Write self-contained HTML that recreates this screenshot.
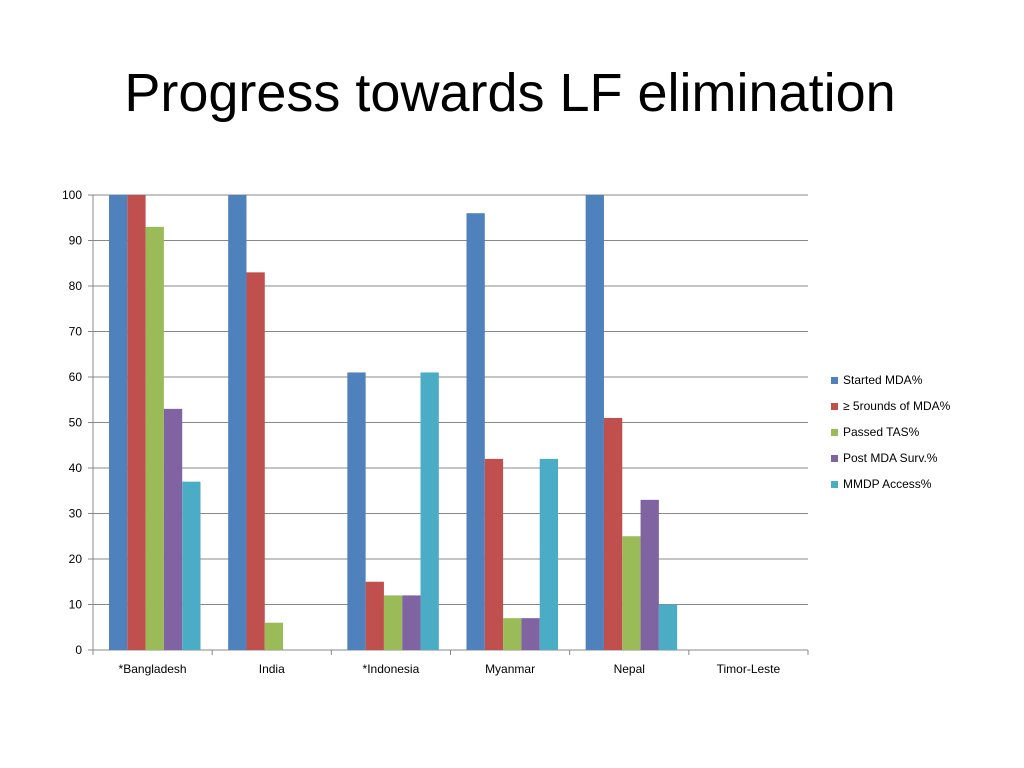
<!DOCTYPE html>
<html><head><meta charset="utf-8"><style>
body{margin:0;background:#fff;width:1024px;height:768px;overflow:hidden;font-family:"Liberation Sans",Calibri,sans-serif}
h1{position:absolute;left:0;width:1024px;top:62px;margin:0;text-align:center;font-weight:normal;font-size:54px;color:#000}
</style></head><body>
<h1 style="left:-2px">Progress towards LF elimination</h1>
<svg id="c" width="1024" height="768" style="position:absolute;left:0;top:0"></svg>
<script>
const categories=["*Bangladesh","India","*Indonesia","Myanmar","Nepal","Timor-Leste"];
const seriesNames=["Started MDA%","\u2265 5rounds of MDA%","Passed TAS%","Post MDA Surv.%","MMDP Access%"];
const startedMDA=[100,100,61,96,100,0];
const rounds5=[100,83,15,42,51,0];
const passedTAS=[93,6,12,7,25,0];
const postMDA=[53,0,12,7,33,0];
const mmdp=[37,0,61,42,10,0];
const yTicks=[0,10,20,30,40,50,60,70,80,90,100];
const series=[startedMDA,rounds5,passedTAS,postMDA,mmdp];
const colors=["#4f81bd","#c0504d","#9bbb59","#8064a2","#4bacc6"];
const ns="http://www.w3.org/2000/svg",svg=document.getElementById('c');
const x0=93,x1=808,y0=650,y1=195;
const gw=(x1-x0)/categories.length,bw=18.3,off=16;
const y=v=>y0-(v/100)*(y0-y1);
function el(t,a){const e=document.createElementNS(ns,t);for(const k in a)e.setAttribute(k,a[k]);svg.appendChild(e);return e;}
yTicks.forEach(t=>{
 const g=el('line',{x1:x0-5,x2:t===0?x1:x1,y1:y(t),y2:y(t),stroke:'#888','stroke-width':1});
 
 
 const tx=el('text',{x:x0-11,y:y(t)+4,'text-anchor':'end','font-size':12,fill:'#000'});
 tx.textContent=t;
 
 
});
const ax=el('line',{x1:x0,x2:x0,y1:y1,y2:y0,stroke:'#888'});


categories.forEach((c,i)=>{
 const gx=x0+i*gw;
 const tk=el('line',{x1:gx+gw,x2:gx+gw,y1:y0,y2:y0+5,stroke:'#888'});
 
 
 series.forEach((s,j)=>{
  if(s[i]<=0)return;
  const r=el('rect',{x:gx+off+j*bw,y:y(s[i]),width:bw,height:y0-y(s[i]),fill:colors[j]});
  
  
 });
 const t=el('text',{x:gx+gw/2,y:673,'text-anchor':'middle','font-size':12,fill:'#000'});
 t.textContent=c;
 
 
});
const t0=el('line',{x1:x0,x2:x0,y1:y0,y2:y0+5,stroke:'#888'});


seriesNames.forEach((n,j)=>{
 const ly=380+j*26;
 const r=el('rect',{x:831,y:ly-3,width:7,height:7,fill:colors[j]});
 
 
 const t=el('text',{x:843,y:ly+4,'font-size':12,fill:'#000'});
 t.textContent=n;
 
 
});
</script>
</body></html>
